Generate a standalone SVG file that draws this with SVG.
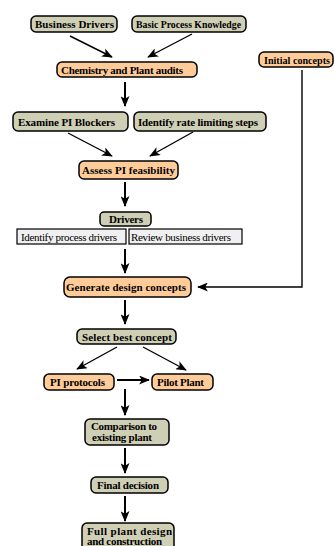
<svg xmlns="http://www.w3.org/2000/svg" width="334" height="546" viewBox="0 0 334 546">
<defs>
<style>
.g{fill:#cfcfb6;stroke:#000;stroke-width:1.5}
.o{fill:#ffcc99;stroke:#000;stroke-width:1.5}
.w{fill:#f0f0f0;stroke:#000;stroke-width:1.2}
.t{font-family:"Liberation Serif","Times New Roman",serif;font-weight:bold;font-size:11px;text-anchor:start;fill:#000}
.r{font-family:"Liberation Serif","Times New Roman",serif;font-size:11px;text-anchor:start;fill:#000}
.c line,.c path{stroke:#000;stroke-width:1.4;fill:none;marker-end:url(#ah)}
.c .v{stroke-width:2}
</style>
<marker id="ah" viewBox="0 0 12 10" refX="11" refY="5" markerWidth="11" markerHeight="9" markerUnits="userSpaceOnUse" orient="auto">
<path d="M0,0 L12,5 L0,10 L3,5 z" fill="#000"/>
</marker>
</defs>
<rect width="334" height="546" fill="#fff"/>
<g class="c" id="connectors">
<line x1="70" y1="36" x2="112" y2="57"/>
<line x1="192" y1="34" x2="148" y2="57"/>
<line class="v" x1="125" y1="82" x2="125" y2="106"/>
<line x1="68" y1="133" x2="112" y2="156"/>
<line x1="193" y1="132" x2="150" y2="156"/>
<line class="v" x1="125" y1="182" x2="125" y2="206"/>
<line class="v" x1="125" y1="249" x2="125" y2="273"/>
<path d="M302,70 L302,287 L198,287"/>
<line class="v" x1="125" y1="300" x2="125" y2="324"/>
<line x1="117" y1="347" x2="77" y2="369"/>
<line x1="143" y1="347" x2="186" y2="370"/>
<line class="v" x1="117" y1="380" x2="149" y2="380"/>
<line class="v" x1="125" y1="389" x2="125" y2="415"/>
<line class="v" x1="125" y1="448" x2="125" y2="473"/>
<line class="v" x1="125" y1="496" x2="125" y2="521"/>
</g>
<g id="business-drivers"><rect class="g" x="31" y="16" width="86" height="16" rx="5"/><text class="t" x="35" y="28" textLength="79" lengthAdjust="spacing">Business Drivers</text></g>
<g id="basic-process-knowledge"><rect class="g" x="132" y="16" width="114" height="16" rx="5"/><text class="t" x="136" y="28" textLength="105" lengthAdjust="spacingAndGlyphs">Basic Process Knowledge</text></g>
<g id="chemistry-audits"><rect class="o" x="57" y="62" width="140" height="15" rx="5"/><text class="t" x="61" y="73.5" textLength="122" lengthAdjust="spacing">Chemistry and Plant audits</text></g>
<g id="initial-concepts"><rect class="o" x="259" y="52" width="74" height="15" rx="5"/><text class="t" x="264" y="63.5" style="font-size:10px" textLength="66" lengthAdjust="spacingAndGlyphs">Initial concepts</text></g>
<g id="examine-pi-blockers"><rect class="g" x="13" y="112" width="115" height="19" rx="5"/><text class="t" x="18" y="125.5" textLength="97" lengthAdjust="spacing">Examine PI Blockers</text></g>
<g id="identify-rate-limiting"><rect class="g" x="134" y="112" width="132" height="19" rx="5"/><text class="t" x="138" y="125.5" textLength="120" lengthAdjust="spacing">Identify rate limiting steps</text></g>
<g id="assess-pi-feasibility"><rect class="o" x="79" y="161" width="99" height="18" rx="5"/><text class="t" x="82" y="174" textLength="93" lengthAdjust="spacing">Assess PI feasibility</text></g>
<g id="drivers"><rect class="g" x="100" y="212" width="51" height="14" rx="4"/><text class="t" x="109" y="223" textLength="34" lengthAdjust="spacing">Drivers</text></g>
<g id="identify-process-drivers"><rect class="w" x="17" y="229" width="109" height="15"/><text class="r" x="21" y="240.5" textLength="96" lengthAdjust="spacing">Identify process drivers</text></g>
<g id="review-business-drivers"><rect class="w" x="129" y="229" width="113" height="15"/><text class="r" x="131" y="240.5" textLength="100" lengthAdjust="spacing">Review business drivers</text></g>
<g id="generate-design-concepts"><rect class="o" x="64" y="277" width="127" height="20" rx="6"/><text class="t" x="66" y="291" textLength="120" lengthAdjust="spacing">Generate design concepts</text></g>
<g id="select-best-concept"><rect class="g" x="77" y="329" width="99" height="15" rx="5"/><text class="t" x="82" y="340.5" textLength="90" lengthAdjust="spacing">Select best concept</text></g>
<g id="pi-protocols"><rect class="o" x="44" y="374" width="70" height="16" rx="5"/><text class="t" x="50" y="386" textLength="55" lengthAdjust="spacing">PI protocols</text></g>
<g id="pilot-plant"><rect class="o" x="152" y="374" width="61" height="16" rx="5"/><text class="t" x="157" y="386" textLength="47" lengthAdjust="spacing">Pilot Plant</text></g>
<g id="comparison"><rect class="g" x="85" y="419" width="84" height="26" rx="5"/><text class="t" x="91" y="430" textLength="66" lengthAdjust="spacing">Comparison to</text><text class="t" x="92" y="441" textLength="60" lengthAdjust="spacing">existing plant</text></g>
<g id="final-decision"><rect class="g" x="91" y="477" width="77" height="16" rx="5"/><text class="t" x="97" y="489" textLength="62" lengthAdjust="spacing">Final decision</text></g>
<g id="full-plant-design"><rect class="g" x="82" y="523" width="92" height="30" rx="5"/><text class="t" x="87" y="534.5" textLength="85" lengthAdjust="spacing">Full plant design</text><text class="t" x="87" y="545" textLength="75" lengthAdjust="spacing">and construction</text></g>
</svg>
